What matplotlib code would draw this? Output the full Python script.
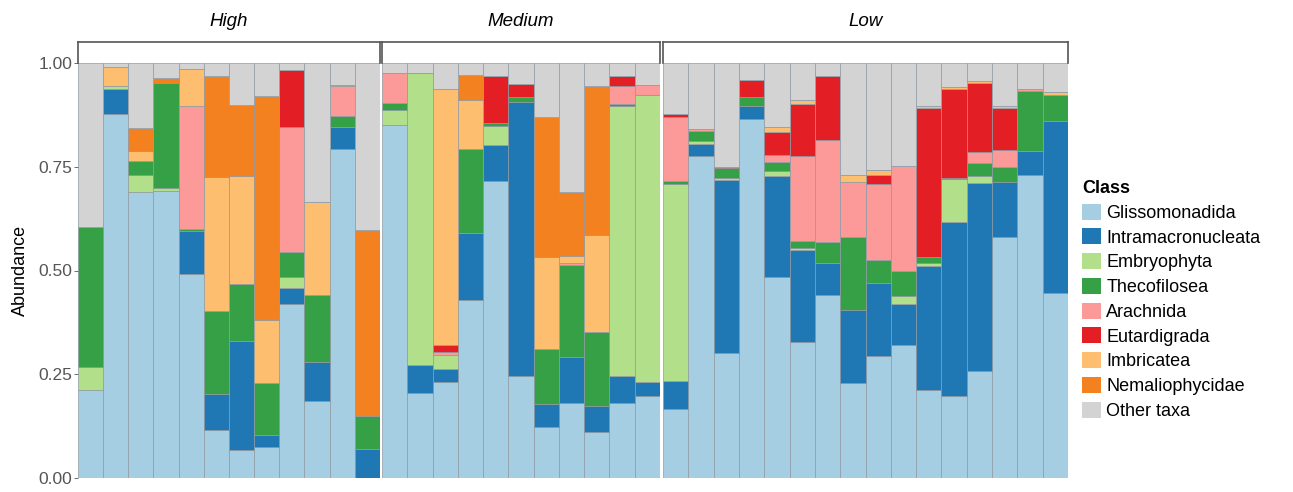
import matplotlib
matplotlib.use("Agg")
import matplotlib.pyplot as plt
from matplotlib.patches import Patch
import numpy as np

plt.rcParams['font.family'] = ['Liberation Sans', 'DejaVu Sans']

classes = ["Glissomonadida", "Intramacronucleata", "Embryophyta", "Thecofilosea",
           "Arachnida", "Eutardigrada", "Imbricatea", "Nemaliophycidae", "Other taxa"]
colors = ["#A6CEE3", "#1F78B4", "#B2DF8A", "#35A045", "#FB9A99", "#E31E24",
          "#FDBF6F", "#F48120", "#D3D3D3"]

groups = ["High", "Medium", "Low"]
n_samples = [12, 11, 16]

# cumulative tops per class (Glisso, Intra, Embryo, Theco, Arach, Eutard, Imbric, Nemal); Other fills to 1
cum_tops = [
    # High
    [0.211, 0.211, 0.267, 0.606, 0.606, 0.606, 0.606, 0.606],
    [0.876, 0.938, 0.944, 0.944, 0.944, 0.944, 0.990, 0.990],
    [0.688, 0.688, 0.729, 0.763, 0.763, 0.763, 0.787, 0.843],
    [0.691, 0.691, 0.698, 0.953, 0.953, 0.953, 0.953, 0.963],
    [0.492, 0.594, 0.594, 0.600, 0.897, 0.897, 0.986, 0.986],
    [0.116, 0.202, 0.202, 0.403, 0.403, 0.403, 0.725, 0.968],
    [0.067, 0.330, 0.330, 0.468, 0.468, 0.468, 0.727, 0.900],
    [0.075, 0.104, 0.104, 0.229, 0.229, 0.229, 0.380, 0.921],
    [0.420, 0.459, 0.484, 0.545, 0.846, 0.982, 0.982, 0.982],
    [0.185, 0.279, 0.279, 0.440, 0.440, 0.440, 0.665, 0.665],
    [0.793, 0.846, 0.846, 0.873, 0.944, 0.944, 0.946, 0.946],
    [0.000, 0.071, 0.071, 0.150, 0.150, 0.150, 0.150, 0.597],
    # Medium
    [0.850, 0.850, 0.886, 0.904, 0.976, 0.976, 0.976, 0.976],
    [0.206, 0.273, 0.976, 0.976, 0.976, 0.976, 0.976, 0.976],
    [0.231, 0.263, 0.297, 0.297, 0.304, 0.321, 0.938, 0.938],
    [0.428, 0.590, 0.590, 0.793, 0.793, 0.793, 0.912, 0.970],
    [0.716, 0.803, 0.847, 0.855, 0.855, 0.968, 0.968, 0.968],
    [0.245, 0.905, 0.905, 0.918, 0.918, 0.949, 0.949, 0.949],
    [0.122, 0.178, 0.178, 0.311, 0.311, 0.311, 0.533, 0.871],
    [0.181, 0.292, 0.292, 0.514, 0.517, 0.517, 0.536, 0.689],
    [0.111, 0.174, 0.174, 0.351, 0.351, 0.351, 0.586, 0.945],
    [0.181, 0.245, 0.897, 0.902, 0.944, 0.968, 0.968, 0.968],
    [0.198, 0.231, 0.924, 0.924, 0.946, 0.946, 0.946, 0.946],
    # Low
    [0.166, 0.233, 0.709, 0.715, 0.870, 0.878, 0.878, 0.878],
    [0.777, 0.805, 0.811, 0.835, 0.841, 0.841, 0.841, 0.841],
    [0.301, 0.717, 0.723, 0.747, 0.747, 0.749, 0.749, 0.749],
    [0.865, 0.896, 0.896, 0.917, 0.917, 0.960, 0.960, 0.960],
    [0.484, 0.727, 0.739, 0.761, 0.779, 0.833, 0.845, 0.845],
    [0.328, 0.550, 0.554, 0.572, 0.775, 0.902, 0.912, 0.912],
    [0.441, 0.518, 0.518, 0.569, 0.815, 0.968, 0.968, 0.968],
    [0.229, 0.404, 0.404, 0.581, 0.713, 0.713, 0.729, 0.729],
    [0.295, 0.471, 0.471, 0.526, 0.709, 0.731, 0.741, 0.741],
    [0.320, 0.419, 0.438, 0.500, 0.753, 0.753, 0.753, 0.753],
    [0.211, 0.512, 0.518, 0.532, 0.532, 0.892, 0.896, 0.896],
    [0.198, 0.617, 0.720, 0.722, 0.722, 0.937, 0.941, 0.941],
    [0.259, 0.712, 0.727, 0.759, 0.785, 0.952, 0.956, 0.956],
    [0.581, 0.713, 0.713, 0.749, 0.790, 0.892, 0.896, 0.896],
    [0.731, 0.789, 0.789, 0.932, 0.937, 0.937, 0.937, 0.937],
    [0.446, 0.861, 0.861, 0.924, 0.924, 0.924, 0.929, 0.929],
]

yticks = [0.0, 0.25, 0.5, 0.75, 1.0]
ytick_labels = ["0.00", "0.25", "0.50", "0.75", "1.00"]

W, H = 1293, 492
fig = plt.figure(figsize=(W / 100, H / 100), dpi=100)

panel_px = [(78, 380), (382, 660), (663, 1068)]
bar_bottom_px, bar_top_px = 478, 63
strip_top_px = 42

start = 0
for gi, (g, n) in enumerate(zip(groups, n_samples)):
    x0, x1 = panel_px[gi]
    ax = fig.add_axes([x0 / W, (H - bar_bottom_px) / H, (x1 - x0) / W,
                       (bar_bottom_px - bar_top_px) / H])
    rows = np.array(cum_tops[start:start + n])
    start += n
    xs = np.arange(n)
    full = np.hstack([rows, np.ones((n, 1))])
    bottoms = np.zeros(n)
    for ci in range(len(classes)):
        tops = full[:, ci]
        heights = tops - bottoms
        ax.bar(xs, heights, bottom=bottoms, width=1.0, color=colors[ci],
               edgecolor="#8f9aa3", linewidth=0.5)
        bottoms = tops
    ax.set_xlim(-0.5, n - 0.5)
    ax.set_ylim(0, 1)
    for s in ax.spines.values():
        s.set_visible(False)
    ax.set_xticks([])
    if gi == 0:
        ax.set_yticks(yticks)
        ax.set_yticklabels(ytick_labels, fontsize=12.5, color="#555555")
        ax.tick_params(axis="y", length=3, width=0.6, color="#555555", pad=1)
        ax.set_ylabel("Abundance", fontsize=13, labelpad=7)
    else:
        ax.set_yticks([])

    # strip box
    sax = fig.add_axes([x0 / W, (H - bar_top_px) / H, (x1 - x0) / W,
                        (bar_top_px - strip_top_px) / H])
    sax.set_xticks([])
    sax.set_yticks([])
    sax.patch.set_alpha(0)
    for side in ["top", "left", "right"]:
        sax.spines[side].set_color("#555555")
        sax.spines[side].set_linewidth(1.2)
    sax.spines["bottom"].set_visible(False)
    fig.text((x0 + x1) / 2 / W, (H - 21) / H, g, ha="center", va="center",
             fontsize=13.5, style="italic")

handles = [Patch(facecolor=c, edgecolor="none") for c in colors]
leg = fig.legend(handles, classes, loc="upper left",
                 bbox_to_anchor=(1082 / W, (H - 180) / H), frameon=False,
                 fontsize=13, title="Class", handlelength=1.05,
                 handleheight=1.0, handletextpad=0.3, labelspacing=0.36,
                 borderaxespad=0, borderpad=0)
leg.get_title().set_fontweight("bold")
leg.get_title().set_fontsize(13)
leg._legend_box.align = "left"

fig.savefig("out.png", dpi=100)
